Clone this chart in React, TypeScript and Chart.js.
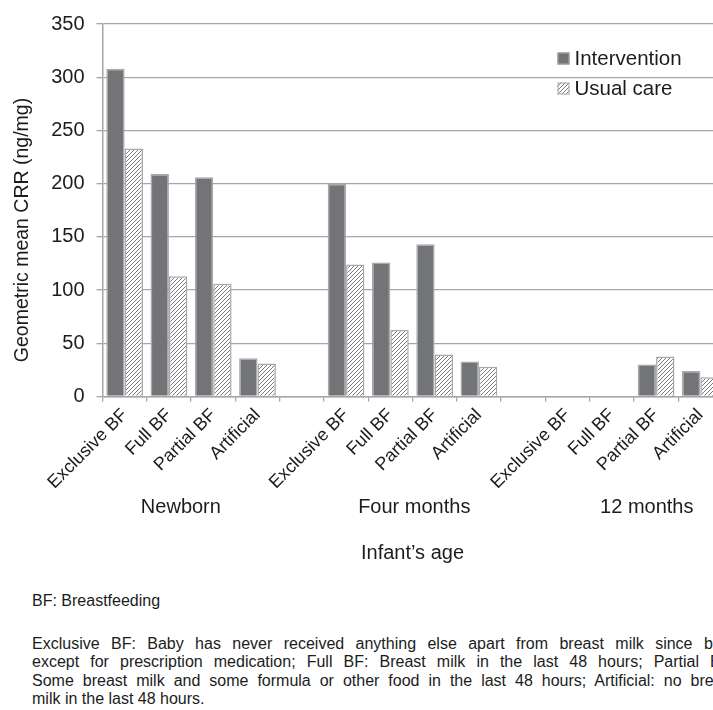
import React, { useEffect, useRef } from 'react';
import { Chart, registerables } from 'chart.js';

Chart.register(...registerables);

const categories = [
  'Exclusive BF', 'Full BF', 'Partial BF', 'Artificial', '',
  'Exclusive BF', 'Full BF', 'Partial BF', 'Artificial', '',
  'Exclusive BF', 'Full BF', 'Partial BF', 'Artificial',
];
const groupLabels = ['Newborn', 'Four months', '12 months'];
const seriesNames = ['Intervention', 'Usual care'];
const interventionValues = [308, 209, 206, 36, null, 200, 126, 143, 33, null, null, null, 30, 24];
const usualCareValues = [233, 113, 106, 31, null, 124, 62.5, 39.5, 28, null, null, null, 37.5, 18];
const yMin = 0;
const yMax = 350;
const yStep = 50;
const yTitle = 'Geometric mean CRR (ng/mg)';
const xTitle = 'Infant\u2019s age';
const noteTitle = 'BF: Breastfeeding';
const noteLines = [
  'Exclusive BF: Baby has never received anything else apart from breast milk since birth',
  'except for prescription medication; Full BF: Breast milk in the last 48 hours; Partial BF:',
  'Some breast milk and some formula or other food in the last 48 hours; Artificial: no breast',
  'milk in the last 48 hours.',
];

const FONT = '"Liberation Sans", Arial, sans-serif';
const TEXT = '#1c1c1c';
const GRID = '#a6a6a6';
const DARK = '#737478';
const EDGE = '#a9a9a9';

function makeHatch(): CanvasPattern | string {
  const c = document.createElement('canvas');
  c.width = 4;
  c.height = 4;
  const g = c.getContext('2d');
  if (!g) return '#ffffff';
  g.fillStyle = '#ffffff';
  g.fillRect(0, 0, 4, 4);
  g.strokeStyle = '#7a7a7a';
  g.lineWidth = 1;
  g.beginPath();
  g.moveTo(-1, 5);
  g.lineTo(5, -1);
  g.moveTo(-3, 3);
  g.lineTo(3, -3);
  g.moveTo(1, 7);
  g.lineTo(7, 1);
  g.stroke();
  const p = g.createPattern(c, 'repeat');
  return p || '#ffffff';
}

const overlayPlugin = {
  id: 'overlayText',
  afterDraw(chart: any) {
    const { ctx, chartArea, scales } = chart;
    const x = scales.x;
    ctx.save();
    ctx.fillStyle = TEXT;
    // y title
    ctx.save();
    ctx.translate(23, 230);
    ctx.rotate(-Math.PI / 2);
    ctx.font = `19.5px ${FONT}`;
    ctx.textAlign = 'center';
    ctx.textBaseline = 'middle';
    ctx.fillText(yTitle, 0, 0);
    ctx.restore();
    // group labels
    const shifts = [-0.23, 0.04, 0.29];
    ctx.font = `20px ${FONT}`;
    ctx.textAlign = 'center';
    ctx.textBaseline = 'middle';
    groupLabels.forEach((g, i) => {
      const center = i * 5 + 1.5 + shifts[i];
      ctx.fillText(g, x.getPixelForValue(center), chartArea.bottom + 111);
    });
    // x title
    ctx.fillText(xTitle, (chartArea.left + chartArea.right) / 2, chartArea.bottom + 157);
    // legend
    const lx = chartArea.left + 455;
    const ly = chartArea.top + 34.5;
    const ds = chart.data.datasets;
    ctx.font = `20.5px ${FONT}`;
    ctx.textAlign = 'left';
    ds.forEach((d: any, i: number) => {
      const cy = ly + i * 30;
      ctx.fillStyle = d.backgroundColor;
      ctx.fillRect(lx, cy - 6, 12, 12);
      ctx.strokeStyle = EDGE;
      ctx.lineWidth = 1;
      ctx.strokeRect(lx + 0.5, cy - 5.5, 11, 11);
      ctx.fillStyle = TEXT;
      ctx.fillText(d.label, lx + 17, cy + 1);
    });
    ctx.restore();
  },
};

function BarChart() {
  const ref = useRef<HTMLCanvasElement | null>(null);
  useEffect(() => {
    if (!ref.current) return;
    const hatch = makeHatch();
    const chart = new Chart(ref.current, {
      type: 'bar',
      data: {
        labels: categories,
        datasets: [
          {
            label: seriesNames[0],
            data: interventionValues,
            backgroundColor: DARK,
            borderColor: EDGE,
            borderWidth: 1.5,
          },
          {
            label: seriesNames[1],
            data: usualCareValues,
            backgroundColor: hatch as any,
            borderColor: EDGE,
            borderWidth: 1.5,
          },
        ],
      },
      options: {
        animation: false,
        responsive: false,
        devicePixelRatio: 1,
        layout: { padding: { left: 0, right: 17.5, top: 23, bottom: 0 } },
        plugins: {
          legend: { display: false },
          tooltip: { enabled: false },
          title: { display: false },
        },
        datasets: {
          bar: { categoryPercentage: 0.83, barPercentage: 1 },
        },
        scales: {
          x: {
            grid: {
              display: true,
              drawOnChartArea: false,
              drawTicks: true,
              tickLength: 5,
              color: GRID,
              lineWidth: 1.3,
            },
            border: { display: true, color: GRID, width: 1.5 },
            ticks: {
              autoSkip: false,
              maxRotation: 45,
              minRotation: 45,
              color: TEXT,
              padding: 3,
              font: { family: FONT, size: 18 },
            },
            afterFit(scale: any) {
              scale.height = 580 - 396.5;
            },
          },
          y: {
            min: yMin,
            max: yMax,
            ticks: {
              stepSize: yStep,
              color: TEXT,
              padding: 12,
              font: { family: FONT, size: 20 },
            },
            grid: {
              color: GRID,
              lineWidth: 1.3,
              tickLength: 6,
            },
            border: { display: true, color: GRID, width: 1.5 },
            afterFit(scale: any) {
              scale.width = 102.5;
            },
          },
        },
      },
      plugins: [overlayPlugin],
    });
    return () => chart.destroy();
  }, []);
  return <canvas ref={ref} width={740} height={580} style={{ position: 'absolute', left: 0, top: 0, width: 740, height: 580 }} />;
}

export default function App() {
  const lineStyle: React.CSSProperties = {
    width: 703,
    textAlign: 'justify',
    textAlignLast: 'justify',
  };
  return (
    <div style={{ position: 'fixed', left: 0, top: 0, width: 713, height: 710, overflow: 'hidden', background: '#fff' }}>
      <BarChart />
      <div style={{ position: 'absolute', left: 32, top: 592, font: `16px ${FONT}`, lineHeight: '18.5px', color: TEXT }}>
        {noteTitle}
      </div>
      <div style={{ position: 'absolute', left: 32, top: 635, font: `16px ${FONT}`, lineHeight: '18.3px', color: TEXT }}>
        {noteLines.map((l, i) => (
          <div
            key={i}
            style={i < noteLines.length - 1 ? lineStyle : { width: 703, textAlign: 'left' }}
          >
            {l}
          </div>
        ))}
      </div>
    </div>
  );
}
